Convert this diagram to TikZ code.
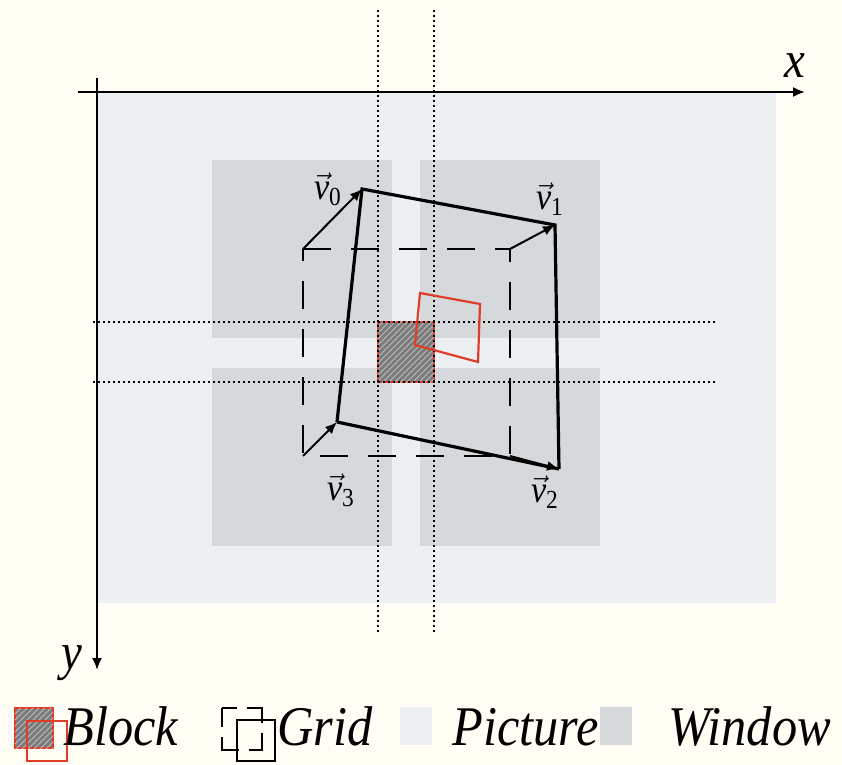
\documentclass[tikz,border=0pt]{standalone}
\usepackage{fontspec}
\setmainfont{Liberation Serif}[FakeStretch=0.9]
\usetikzlibrary{arrows.meta,patterns}
\definecolor{paper}{HTML}{FFFDF4}
\definecolor{picturebg}{HTML}{EDF0F2}
\definecolor{windowbg}{HTML}{D6D9DC}
\definecolor{blockred}{HTML}{E03C2A}
\definecolor{blockgray}{HTML}{7C7C7C}
\newcommand{\vlab}[1]{$\vec{\mbox{\itshape v}}_{\mbox{\fontsize{13}{14}\selectfont #1}}$}

\tikzset{
  dotline/.style={line width=1.3pt,dash pattern=on 1.2pt off 1.3pt},
  gridline/.style={line width=0.8pt,dash pattern=on 14pt off 10pt},
  edge/.style={line width=1.6pt},
  vecarrow/.style={line width=1pt,-{Latex[length=6pt,width=5pt]}},
  hatched/.style={fill=blockgray,postaction={pattern=north east lines,pattern color=gray!55}},
  veclabel/.style={font=\fontsize{19}{22}\selectfont,inner sep=0pt},
  axislabel/.style={font=\fontsize{26}{30}\selectfont\itshape,inner sep=0pt},
  legendtext/.style={font=\fontsize{28}{32}\selectfont\itshape,anchor=base west,inner sep=0pt},
}

\begin{document}
\begin{tikzpicture}[x=0.5pt,y=-0.5pt]
    \useasboundingbox (0,0) rectangle (842,765);
    \fill[paper] (0,0) rectangle (842,765);
    % picture and windows
    \fill[picturebg] (97,92) rectangle (776,603);
    \foreach \x/\y in {212/160,420/160,212/368,420/368}
      \fill[windowbg] (\x,\y) rectangle +(180,178);
    % block
    \path[hatched,draw=blockred,line width=0.6pt] (378,322) rectangle (434,382);
    \foreach \x in {378,434} \draw[dotline] (\x,10) -- (\x,632);
    \foreach \y in {322,382} \draw[dotline] (93,\y) -- (716,\y);
    \draw[blockred,line width=1.1pt] (420,293) -- (480,304) -- (478,362) -- (415,345) -- cycle;
    % grid and vertices
    \coordinate (g0) at (303,249);
    \coordinate (g1) at (510,249);
    \coordinate (g2) at (510,456);
    \coordinate (g3) at (303,456);
    \coordinate (v0) at (362,189);
    \coordinate (v1) at (555,225);
    \coordinate (v2) at (559,469);
    \coordinate (v3) at (337,422);
    \draw[gridline] (g0) -- (g1) -- (g2) -- (g3) -- cycle;
    \draw[edge] (v3) -- (v0) -- (v1) -- (v2);
    \draw[edge] (v3) -- (v2);
    \foreach \i in {0,1,2,3} \draw[vecarrow] (g\i) -- (v\i);
    \node[veclabel] (l0) at (328,189) {\vlab{0}};
    \node[veclabel] (l1) at (550,199) {\vlab{1}};
    \node[veclabel] (l2) at (545,492) {\vlab{2}};
    \node[veclabel] (l3) at (341,490) {\vlab{3}};
    % axes
    \coordinate (o) at (97,92);
    \draw[line width=1pt,-{Latex[length=6pt,width=5pt]}] (78,92) -- (805,92);
    \draw[line width=1pt,-{Latex[length=6pt,width=5pt]}] (97,78) -- (97,670);
    \node[axislabel] (xl) at (795,66) {x};
    \node[axislabel] (yl) at (72,663) {y};
    % legend
    \path[hatched,draw=blockred,line width=1pt] (15,708) rectangle (53,748);
    \draw[blockred,line width=1pt] (27,721) rectangle (67,761);
    \node[legendtext] (lb) at (63,745) {Block};
    \draw[line width=0.9pt,dash pattern=on 15pt off 5pt,dash phase=7.5pt] (222,708) -- (262,708) -- (262,750) -- (222,750) -- cycle;
    \draw[line width=1pt] (237,720) rectangle (275,761);
    \node[legendtext] (lg) at (277,745) {Grid};
    \fill[picturebg] (400,707) rectangle (432,745);
    \node[legendtext] (lp) at (452,745) {Picture};
    \fill[windowbg] (600,707) rectangle (632,745);
    \node[legendtext] (lw) at (668,745) {Window};
\end{tikzpicture}
\end{document}
